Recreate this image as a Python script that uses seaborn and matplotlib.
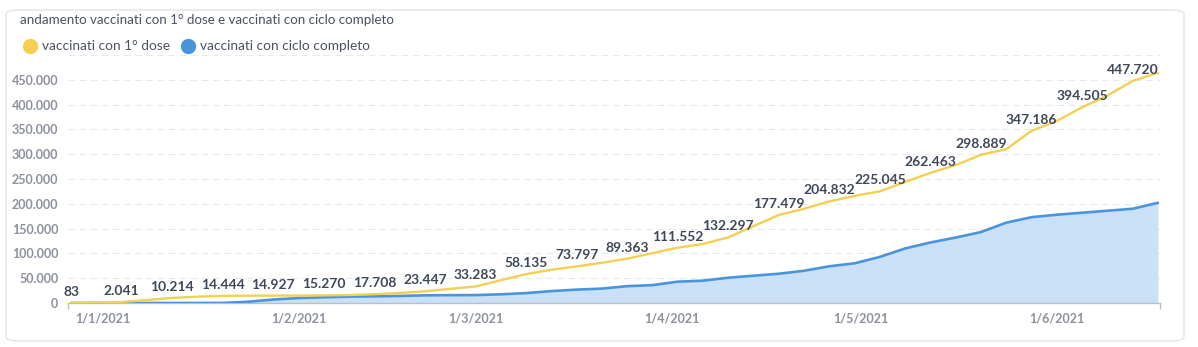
import matplotlib
matplotlib.use("Agg")
import matplotlib.pyplot as plt
import matplotlib.dates as mdates
from matplotlib.patches import FancyBboxPatch
from matplotlib.ticker import FuncFormatter
import seaborn as sns
import pandas as pd

# Data: cumulative vaccinated people, sampled every 4 days
dates = pd.date_range("2020-12-27", "2021-06-17", freq="4D")
prima_dose = [83, 800, 2041, 6000, 10214, 12800, 14444, 14700, 14927, 15050,
              15270, 16100, 17708, 20300, 23447, 28500, 33283, 46000, 58135, 67000,
              73797, 81000, 89363, 100500, 111552, 119000, 132297, 155000, 177479, 190000,
              204832, 216000, 225045, 244000, 262463, 278000, 298889, 310000, 347186, 367000,
              394505, 418000, 447720, 464000]
ciclo_completo = [0, 0, 0, 0, 0, 0, 200, 2500, 7000, 10000,
                  11500, 12800, 13500, 14200, 15500, 15800, 16000, 17500, 20000, 24000,
                  27000, 29000, 34000, 36000, 43000, 45000, 51000, 55000, 59000, 65000,
                  74000, 80000, 93000, 110000, 122000, 132000, 143000, 162000, 173000, 178000,
                  182000, 186000, 190000, 202000]
series_names = ["vaccinati con 1° dose", "vaccinati con ciclo completo"]
title = "andamento vaccinati con 1° dose e vaccinati con ciclo completo"
y_ticks = [0, 50000, 100000, 150000, 200000, 250000, 300000, 350000, 400000, 450000]
x_ticks = pd.to_datetime(["2021-01-01", "2021-02-01", "2021-03-01",
                          "2021-04-01", "2021-05-01", "2021-06-01"])

df = pd.DataFrame({"data": dates, "prima": prima_dose, "completo": ciclo_completo})

sns.set_theme(style="white")
plt.rcParams["font.family"] = ["Lato", "DejaVu Sans"]

YELLOW = "#f3cf52"
BLUE = "#4a94dc"
FILL = "#c9e0f6"
LABEL = "#3e4859"
TICK = "#8c919c"

fig = plt.figure(figsize=(11.98, 3.47), dpi=100)
fig.patch.set_facecolor("white")

# card background, kept behind the axes
card = FancyBboxPatch((6 / 1198, 6 / 347), 1178 / 1198, 331 / 347,
                      boxstyle="round,pad=0,rounding_size=0.012",
                      transform=fig.transFigure, facecolor="white",
                      edgecolor="#e3e5e8", linewidth=1.0, zorder=-10)
fig.patches.append(card)

ax = fig.add_axes([68 / 1198, (347 - 303) / 347, (1160 - 68) / 1198, (303 - 55) / 347])
ax.set_zorder(5)
ax.set_facecolor("none")

ax.fill_between(df["data"], df["completo"], 0, color=FILL, linewidth=0, zorder=1)
sns.lineplot(data=df, x="data", y="completo", ax=ax, color=BLUE, linewidth=1.9, zorder=3)
sns.lineplot(data=df, x="data", y="prima", ax=ax, color=YELLOW, linewidth=1.7, zorder=4)

# value labels on every other sample
for i in range(0, len(df), 2):
    v = df["prima"].iloc[i]
    ax.annotate(f"{v:,}".replace(",", "."), (df["data"].iloc[i], v),
                xytext=(0, 5), textcoords="offset pixels", ha="center", va="bottom",
                fontsize=10, fontweight="bold", color=LABEL, zorder=5)

x_start = pd.Timestamp("2020-12-26 12:00")
x_end = pd.Timestamp("2021-06-17 08:00")
ax.set_xlim(x_start, x_end)
ax.set_ylim(0, 500000)
ax.set_yticks(y_ticks)
ax.yaxis.set_major_formatter(FuncFormatter(lambda v, p: f"{int(v):,}".replace(",", ".")))
ax.set_xticks(x_ticks)
ax.set_xticks([x_start, x_end], minor=True)
ax.xaxis.set_major_formatter(FuncFormatter(
    lambda v, p: f"{mdates.num2date(v).day}/{mdates.num2date(v).month}/{mdates.num2date(v).year}"))
ax.set_xlabel("")
ax.set_ylabel("")

for g in y_ticks[1:] + [500000]:
    ax.axhline(g, color="#e8e9ec", linewidth=0.8, linestyle=(0, (6, 4)), zorder=0)

for s in ["top", "right", "left"]:
    ax.spines[s].set_visible(False)
ax.spines["bottom"].set_color("#b9c0cc")
ax.spines["bottom"].set_linewidth(1.0)
ax.tick_params(axis="y", length=0, pad=7, labelsize=9, labelcolor=TICK)
ax.tick_params(axis="x", which="major", length=0, pad=7, labelsize=9, labelcolor=TICK)
ax.tick_params(axis="x", which="minor", length=4, width=1.0, color="#b9c0cc",
               direction="out", bottom=True)
for lab in ax.get_yticklabels() + ax.get_xticklabels():
    lab.set_fontweight("bold")

# title and legend
fig.text(20 / 1198, 1 - 20 / 347, title, fontsize=9.6, color="#4a5160",
         ha="left", va="center")
fig.lines.append(plt.Line2D([30 / 1198], [1 - 46 / 347], marker="o", markersize=10,
                            color=YELLOW, transform=fig.transFigure, linestyle="none"))
fig.text(42 / 1198, 1 - 46 / 347, series_names[0], fontsize=9.8, color="#4a5160",
         ha="left", va="center")
fig.lines.append(plt.Line2D([188 / 1198], [1 - 46 / 347], marker="o", markersize=10,
                            color=BLUE, transform=fig.transFigure, linestyle="none"))
fig.text(200 / 1198, 1 - 46 / 347, series_names[1], fontsize=9.8, color="#4a5160",
         ha="left", va="center")

fig.savefig("out.png", dpi=100)
